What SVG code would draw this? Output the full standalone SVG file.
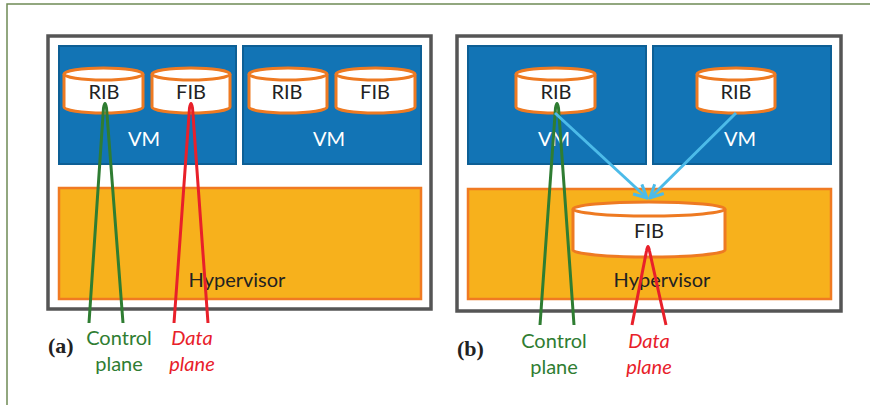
<svg xmlns="http://www.w3.org/2000/svg" width="870" height="405" viewBox="0 0 870 405">
<defs>
<style>
.frame{fill:none;stroke:#6f8a55;stroke-width:1.5}
.box{fill:#fff;stroke:#555;stroke-width:3.5}
.vm{fill:#1274b5;stroke:#0d5f95;stroke-width:2}
.hv{fill:#f7b11c;stroke:#f07a22;stroke-width:2.5}
.cyl{fill:#fff;stroke:#ee7a22;stroke-width:3}
.t{font-family:Lato,"Open Sans","Liberation Sans",sans-serif;font-size:20px;fill:#222;text-anchor:middle}
.w{fill:#fff}
.g{fill:#2f7d32}
.r{fill:#e8202a;font-style:italic}
.lab{font-family:"Liberation Serif",serif;font-weight:bold;font-size:22px;fill:#222}
.gl{fill:none;stroke:#2f7d32;stroke-width:3}
.rl{fill:none;stroke:#e8202a;stroke-width:3}
.bl{fill:none;stroke:#4cbbe9;stroke-width:3}
</style>
<marker id="ah" viewBox="0 0 16 16" refX="14" refY="8" markerWidth="16" markerHeight="16" markerUnits="userSpaceOnUse" orient="auto">
<path d="M1,1.5 L14,8 L1,14.5" fill="none" stroke="#4cbbe9" stroke-width="3"/>
</marker>
</defs>
<rect class="frame" x="7" y="4" width="880" height="420"/>

<!-- Panel (a) -->
<g id="panel-a">
<rect class="box" x="48" y="36" width="383" height="273"/>
</g>
<g id="a-vm1"><rect class="vm" x="59" y="46" width="177" height="118"/><text class="t w" x="144" y="146">VM</text></g>
<g id="a-vm2"><rect class="vm" x="243" y="46" width="178" height="118"/><text class="t w" x="329" y="146">VM</text></g>
<g id="a-hyp"><rect class="hv" x="59" y="188" width="362" height="111"/><text class="t" x="237" y="287">Hypervisor</text></g>
<g id="a-rib1"><path class="cyl" d="M64,74 L64,107 A39.5,6 0 0 0 143,107 L143,74"/><ellipse class="cyl" cx="103.5" cy="74" rx="39.5" ry="6"/><text class="t" x="104" y="99">RIB</text></g>
<g id="a-fib1"><path class="cyl" d="M152,74 L152,107 A39,6 0 0 0 230,107 L230,74"/><ellipse class="cyl" cx="191" cy="74" rx="39" ry="6"/><text class="t" x="191" y="99">FIB</text></g>
<g id="a-rib2"><path class="cyl" d="M249,74 L249,107 A39,6 0 0 0 327,107 L327,74"/><ellipse class="cyl" cx="288" cy="74" rx="39" ry="6"/><text class="t" x="287" y="99">RIB</text></g>
<g id="a-fib2"><path class="cyl" d="M336,74 L336,107 A39.5,6 0 0 0 415,107 L415,74"/><ellipse class="cyl" cx="375.5" cy="74" rx="39.5" ry="6"/><text class="t" x="375" y="99">FIB</text></g>

<!-- Panel (b) -->
<g id="panel-b">
<rect class="box" x="457" y="36" width="384" height="275"/>
</g>
<g id="b-vm1"><rect class="vm" x="468" y="46" width="178" height="118"/><text class="t w" x="554" y="146">VM</text></g>
<g id="b-vm2"><rect class="vm" x="653" y="46" width="178" height="118"/><text class="t w" x="740" y="146">VM</text></g>
<g id="b-hyp"><rect class="hv" x="468" y="189" width="363" height="110"/><text class="t" x="662" y="287">Hypervisor</text></g>
<g id="b-rib1"><path class="cyl" d="M516,74 L516,107 A39.5,6 0 0 0 595,107 L595,74"/><ellipse class="cyl" cx="555.5" cy="74" rx="39.5" ry="6"/><text class="t" x="556" y="99">RIB</text></g>
<g id="b-rib2"><path class="cyl" d="M697,74 L697,107 A39,6 0 0 0 775,107 L775,74"/><ellipse class="cyl" cx="736" cy="74" rx="39" ry="6"/><text class="t" x="736" y="99">RIB</text></g>

<!-- Connectors -->
<g id="connectors">
<path class="gl" d="M89,323 L103.5,108 Q105,99 106.5,108 L123,323"/>
<path class="rl" d="M174,323 L189.5,108 Q191,99 192.5,108 L208,323"/>
<path class="gl" d="M540,325 L555.5,108 Q557,99 558.5,108 L574,325"/>
<path class="bl" d="M555,113 L647,198" marker-end="url(#ah)"/>
<path class="bl" d="M736,113 L650,198" marker-end="url(#ah)"/>
</g>

<g id="b-fib"><path class="cyl" d="M573,209 L573,250 A76,7 0 0 0 725,250 L725,209"/><ellipse class="cyl" cx="649" cy="209" rx="76" ry="7"/><text class="t" x="649" y="238">FIB</text></g>

<g id="connectors-2">
<path class="rl" d="M632,325 L646.5,251 Q648,242 649.5,251 L666,325"/>
</g>

<!-- Labels -->
<g id="labels-a">
<text class="lab" x="48" y="353">(a)</text>
<text class="t g" x="119" y="345">Control</text>
<text class="t g" x="119" y="371">plane</text>
<text class="t r" x="192" y="345">Data</text>
<text class="t r" x="192" y="371">plane</text>
</g>
<g id="labels-b">
<text class="lab" x="457" y="356">(b)</text>
<text class="t g" x="554" y="348">Control</text>
<text class="t g" x="554" y="374">plane</text>
<text class="t r" x="649" y="348">Data</text>
<text class="t r" x="649" y="374">plane</text>
</g>
</svg>
